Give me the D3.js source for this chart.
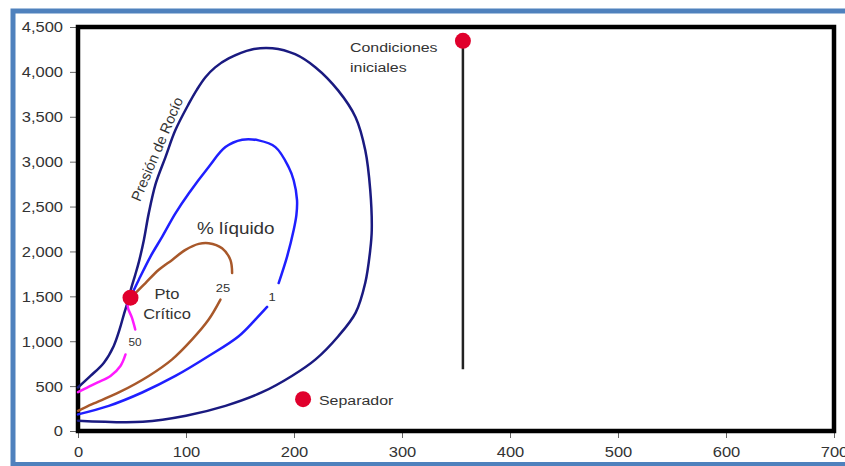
<!DOCTYPE html>
<html>
<head>
<meta charset="utf-8">
<script src="https://cdn.jsdelivr.net/npm/d3@7"></script>
<style>
  html, body { margin: 0; padding: 0; background: #fff; }
  svg { display: block; }
  text { font-family: "Liberation Sans", Arial, sans-serif; fill: #333; }
</style>
</head>
<body>
<svg id="chart" width="845" height="466"></svg>
<script>
// ---------- DATA (temperature °F, pressure psia) ----------
const xTicks = [0, 100, 200, 300, 400, 500, 600, 700];
const yTicks = [0, 500, 1000, 1500, 2000, 2500, 3000, 3500, 4000, 4500];

// Dew / bubble envelope (dark navy)
const envelope = [[0,485],[11.6,613],[24,761],[33,945],[38.5,1131],[42.5,1300],[46,1440],
  [49.5,1600],[53,1740],[56.5,1890],[61,2128],[65.5,2424],[72,2757],[81,3051],[90,3347],
  [102.5,3643],[110,3800],[118,3940],[127,4050],[139.5,4150],[161,4250],[180,4264],[201,4197],
  [220,4049],[241,3791],[257,3495],[266,3126],[270.6,2682],[272,2239],[270.6,2017],[266,1652],
  [257,1316],[241,1056],[220,798],[198,613],[170,429],[136.5,280],[100,170],[60,103],[0,115]];

// 1 % liquid line (blue), two pieces around its label
const liq1Upper = [[48.6,1490],[56.3,1685],[67.1,1943],[78,2165],[90.2,2424],[102.5,2646],
  [121,2941],[136.5,3162],[152,3244],[167.3,3237],[182.8,3162],[195,2941],[199.7,2793],
  [202.8,2571],[202.2,2405],[199.7,2239],[193.6,1943],[185.8,1648]];
const liq1Lower = [[175.1,1382],[164.2,1241],[148.8,1056],[121,835],[90.2,613],[59.4,429],
  [28.5,280],[0,185]];

// 25 % liquid line (brown)
const liq25Upper = [[48.6,1490],[54.8,1555],[62.5,1648],[74.8,1796],[87.2,1906],[99.5,2017],
  [111.8,2084],[121,2092],[133.4,2036],[141.1,1906],[142.7,1759]];
const liq25Lower = [[131.9,1463],[121,1241],[105.7,1020],[87.2,798],[65.5,613],[37.8,429],
  [13.1,299],[0,225]];

// 50 % liquid line (magenta)
const liq50Upper = [[48,1490],[46,1389],[50,1260],[53,1131]];
const liq50Lower = [[44,853],[39.3,724],[30.1,613],[17.8,540],[8.5,484],[0,432]];

// Points
const criticalPoint = [48.6, 1485];
const separatorPoint = [208.4, 355];
const initialPoint = [356.4, 4346];
const initialPath = [[356.4, 4346], [356.4, 687]];

// ---------- CHART ----------
const svg = d3.select("#chart");
const plot = { left: 78, right: 834, top: 27, bottom: 431 };

const x = d3.scaleLinear().domain([0, 700]).range([plot.left, plot.right]);
const y = d3.scaleLinear().domain([0, 4500]).range([plot.bottom, plot.top]);
const SX = 1.18; // horizontal text stretch seen in the reference

// outer blue frame
svg.append("rect").attr("x", 13).attr("y", 11).attr("width", 900).attr("height", 453.5)
  .attr("fill", "#fff").attr("stroke", "#4f81bd").attr("stroke-width", 5);

// axes
const yAxis = d3.axisLeft(y).tickValues(yTicks).tickFormat(d3.format(",")).tickSize(8);
const gy = svg.append("g").attr("transform", `translate(${plot.left},0)`).call(yAxis);
gy.select(".domain").remove();
gy.selectAll(".tick line").attr("stroke", "#666");
gy.selectAll(".tick text").attr("x", 0).attr("dy", "0.35em").attr("text-anchor", "end")
  .attr("transform", `translate(-15,0) scale(${SX},1)`)
  .style("font-size", "14px").style("font-family", "Liberation Sans, Arial, sans-serif").attr("fill", "#333");

const xAxis = d3.axisBottom(x).tickValues(xTicks).tickFormat(d3.format("d")).tickSize(7);
const gx = svg.append("g").attr("transform", `translate(0,${plot.bottom})`).call(xAxis);
gx.select(".domain").remove();
gx.selectAll(".tick line").attr("stroke", "#666");
gx.selectAll(".tick text").attr("y", 0).attr("dy", 0).attr("text-anchor", "middle")
  .attr("transform", `translate(0,26) scale(${SX},1)`)
  .style("font-size", "14px").style("font-family", "Liberation Sans, Arial, sans-serif").attr("fill", "#333");

// plot frame
svg.append("rect").attr("x", plot.left).attr("y", plot.top)
  .attr("width", plot.right - plot.left).attr("height", plot.bottom - plot.top)
  .attr("fill", "none").attr("stroke", "#000").attr("stroke-width", 4.5);

const line = d3.line().x(d => x(d[0])).y(d => y(d[1])).curve(d3.curveCatmullRom.alpha(0.5));

function curve(data, color) {
  svg.append("path").datum(data).attr("d", line).attr("fill", "none")
    .attr("stroke", color).attr("stroke-width", 2.5).attr("stroke-linecap", "round");
}
curve(envelope, "#1a1a80");
curve(liq1Upper, "#1f1fff");
curve(liq1Lower, "#1f1fff");
curve(liq25Upper, "#a8582a");
curve(liq25Lower, "#a8582a");
curve(liq50Upper, "#ff1aff");
curve(liq50Lower, "#ff1aff");

// initial conditions vertical line
svg.append("path").datum(initialPath)
  .attr("d", d3.line().x(d => x(d[0])).y(d => y(d[1])))
  .attr("stroke", "#222").attr("stroke-width", 2.5).attr("fill", "none");

// points
[criticalPoint, separatorPoint, initialPoint].forEach(p => {
  svg.append("circle").attr("cx", x(p[0])).attr("cy", y(p[1])).attr("r", 8)
    .attr("fill", "#e0002c");
});

// labels
function label(txt, px, py, size, anchor) {
  return svg.append("text").text(txt)
    .attr("transform", `translate(${px},${py}) scale(${SX},1)`)
    .attr("text-anchor", anchor || "start")
    .style("font-size", size + "px");
}
label("Condiciones", 350, 52, 13.5);
label("iniciales", 350, 72, 13.5);
label("Separador", 319, 405, 13.5);
label("Pto", 167, 299, 14, "middle");
label("Crítico", 167, 319, 14, "middle");
label("% líquido", 197, 234, 16);
label("25", 223, 292, 11, "middle");
label("1", 272, 300.5, 11, "middle");
label("50", 135, 346, 10, "middle");

svg.append("text").text("Presión de Rocío")
  .attr("transform", "translate(157,149) rotate(-67)")
  .attr("text-anchor", "middle").attr("dy", "0.35em")
  .style("font-size", "14.5px");
</script>
</body>
</html>
